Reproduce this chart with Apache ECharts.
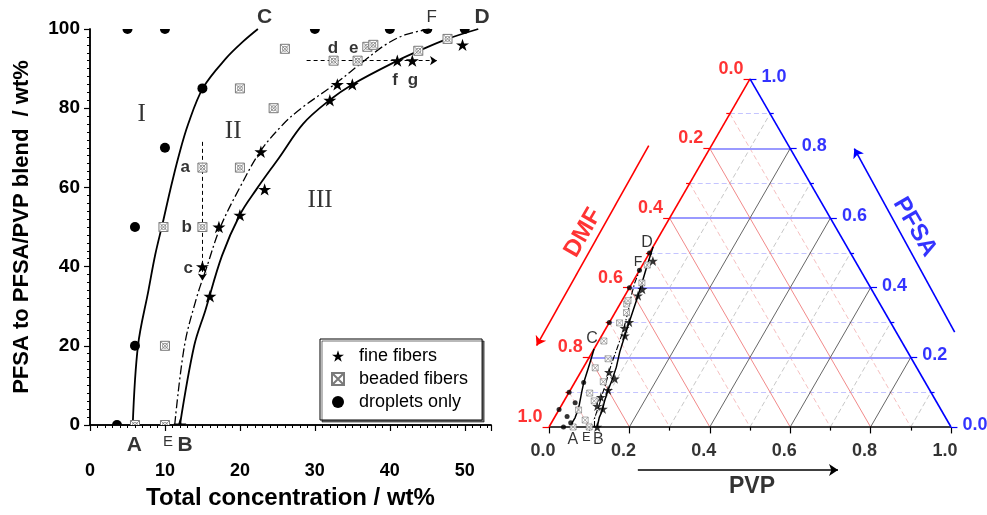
<!DOCTYPE html>
<html>
<head>
<meta charset="utf-8">
<script src="https://cdn.jsdelivr.net/npm/echarts@6/dist/echarts.min.js"></script>
<style>
  html, body { margin: 0; padding: 0; background: #fff; }
  #chart { width: 987px; height: 515px; }
</style>
</head>
<body>
<div id="chart"></div>
<script>
// left panel: [total concentration wt%, PFSA in PFSA/PVP blend wt%]
const fineFibers = [[12, 0], [16, 32.5], [15, 40], [17.2, 50], [20, 53], [23.3, 59.5], [22.8, 69],
  [32, 82], [33, 86], [35, 86], [41, 92], [43, 92], [49.7, 96]];
const beadedFibers = [[6, 0], [10, 0], [10, 20], [9.8, 50], [15, 50], [15, 65], [20, 65], [24.5, 80],
  [20, 85], [26, 95], [32.5, 92], [35.7, 92], [37, 95.5], [37.8, 96], [43.8, 94.5], [47.7, 97.5]];
const droplets = [[3.6, 0], [6, 20], [6, 50], [10, 70], [15, 85], [5, 100], [10, 100], [30, 100],
  [40, 100], [45, 100], [50, 100]];

// boundary curves A-C, E-F (dash-dot), B-D
const curveAC = [[5.7, 0], [6.4, 20], [7.8, 34], [8.7, 43], [9.7, 51], [10.7, 59.3], [11.8, 67.7],
  [13.1, 76], [15.1, 85.2], [18.2, 92.7], [20.4, 96.8], [22.4, 100]];
const curveEF = [[11.3, 0], [12.6, 20], [14.2, 32], [15.6, 40], [17.4, 50], [20, 60], [22.8, 69.3],
  [25.8, 76], [28.2, 80], [32.6, 86], [36.6, 92], [39.4, 96], [42, 98.5], [45.3, 100]];
const curveBD = [[12, 0], [13.9, 20], [15.4, 29], [17.6, 42.7], [20, 53.1], [22.2, 59.5], [25.3, 67.7],
  [28.4, 76], [31.8, 81.8], [35, 86], [41, 92], [43.9, 94.5], [47.7, 97.5], [51.8, 100]];

// dashed guide arrows a->c and d->g
const arrowDown = [[15, 71.5], [15, 36.5]];
const arrowRight = [[28.9, 92], [46.3, 92]];

// ternary ticks
const ternMajor = [0, 0.2, 0.4, 0.6, 0.8, 1.0];
const ternMinor = [0.1, 0.3, 0.5, 0.7, 0.9];

const H = Math.sqrt(3) / 2;
const tp = (pvp, pfsa) => [pvp + pfsa / 2, pfsa * H];
// left-panel point -> triangle position
const tern = (d) => tp(d[0] * (100 - d[1]) / 10000, d[0] * d[1] / 10000);

const STAR = 'M50,2 L61.8,37.6 L99,37.6 L68.9,59.6 L80.4,95.2 L50,73.2 L19.6,95.2 L31.1,59.6 L1,37.6 L38.2,37.6 Z';
const BEAD = 'M0,0 H10 V10 H0 Z M0,0 L10,10 M10,0 L0,10';
const FONT = 'Liberation Sans';

// triangle placement in pixels
const S = 402, OX = 549, OY = 427;
const TX = [-0.15, 1.08], TY = [-0.2, H + 0.1];

const chart = echarts.init(document.getElementById('chart'));

const drawStar = (p, s) => ({ type: 'path',
  shape: { pathData: STAR, x: p[0] - s / 2, y: p[1] - s / 2, width: s, height: s },
  style: { fill: '#000' } });
const drawDot = (p, s) => ({ type: 'circle', shape: { cx: p[0], cy: p[1], r: s / 2 }, style: { fill: '#000' } });
const drawBead = (p, s) => {
  const h = s / 2, x = p[0], y = p[1], c = '#7a7a7a';
  return { type: 'group', children: [
    { type: 'rect', shape: { x: x - h, y: y - h, width: s, height: s }, style: { fill: '#fff', stroke: c, lineWidth: 1 } },
    { type: 'line', shape: { x1: x - h, y1: y - h, x2: x + h, y2: y + h }, style: { stroke: c, lineWidth: 0.8 } },
    { type: 'line', shape: { x1: x + h, y1: y - h, x2: x - h, y2: y + h }, style: { stroke: c, lineWidth: 0.8 } },
    { type: 'circle', shape: { cx: x, cy: y, r: s * 0.28 }, style: { fill: 'none', stroke: c, lineWidth: 0.8 } }
  ] };
};

function markerSeries(name, data, draw, size, itemStyle) {
  return {
    type: 'custom', name, xAxisIndex: 0, yAxisIndex: 0, data, clip: true, z: 6, itemStyle,
    renderItem: (params, api) => draw(api.coord([api.value(0), api.value(1)]), size)
  };
}

// text placed at data positions
function textSeries(items, axis) {
  return {
    type: 'scatter', xAxisIndex: axis, yAxisIndex: axis, symbolSize: 1, silent: true, clip: false, z: 10,
    itemStyle: { color: 'rgba(0,0,0,0)' },
    data: items.map(it => ({ value: it.pos, name: it.text,
      label: Object.assign({ show: true, formatter: '{b}', position: 'inside', color: '#000',
        fontFamily: FONT }, it.style) }))
  };
}

const bold17 = { fontSize: 17, fontWeight: 'bold' };
const roman = { fontSize: 25, fontFamily: 'Liberation Serif' };
const big = { fontSize: 21, fontWeight: 'bold' };
const small = { fontSize: 15 };

const leftNotes = [
  { text: 'a', pos: [12.7, 65], style: bold17 },
  { text: 'b', pos: [12.9, 50], style: bold17 },
  { text: 'c', pos: [13.1, 39.5], style: bold17 },
  { text: 'd', pos: [32.4, 95.2], style: bold17 },
  { text: 'e', pos: [35.2, 95.2], style: bold17 },
  { text: 'f', pos: [40.7, 87], style: bold17 },
  { text: 'g', pos: [43.1, 87], style: bold17 },
  { text: 'I', pos: [6.9, 78.5], style: roman },
  { text: 'II', pos: [19.1, 74.2], style: roman },
  { text: 'III', pos: [30.7, 56.8], style: roman },
  { text: 'C', pos: [23.3, 103], style: big },
  { text: 'F', pos: [45.6, 103], style: { fontSize: 17 } },
  { text: 'D', pos: [52.3, 103], style: big },
  { text: 'A', pos: [5.9, -5], style: big },
  { text: 'E', pos: [10.4, -4.3], style: small },
  { text: 'B', pos: [12.7, -5], style: big }
];

// ternary helpers
const lineStyleBase = { opacity: 1, curveness: 0 };
function ternLines(coords, style, z) {
  return {
    type: 'lines', coordinateSystem: 'cartesian2d', xAxisIndex: 2, yAxisIndex: 2, silent: true, z,
    symbol: 'none', lineStyle: Object.assign({}, lineStyleBase, style),
    data: coords.map(c => ({ coords: c }))
  };
}
const inner = ternMajor.filter(v => v > 0 && v < 1);
const blueL = vals => vals.map(f => [tp(0, f), tp(1 - f, f)]);
const redL = vals => vals.map(d => [tp(0, 1 - d), tp(1 - d, 0)]);
const grayL = vals => vals.map(p => [tp(p, 0), tp(p, 1 - p)]);

const allT = ternMajor.concat(ternMinor);
const tlen = v => (ternMajor.indexOf(v) >= 0 ? 0.016 : 0.009);
const bottomTicks = allT.map(v => [tp(v, 0), [v, -tlen(v)]]);
const redTicks = allT.map(d => { const p = tp(0, 1 - d); return [p, [p[0] - tlen(d), p[1]]]; });
const blueTicks = allT.map(f => { const p = tp(1 - f, f); return [p, [p[0] + tlen(f), p[1]]]; });

// arrows beside the edges: t along the edge, o outward offset
const leftEdge = (t, o) => [t * 0.5 - o * H, t * H + o * 0.5];
const rightEdge = (t, o) => [1 - t * 0.5 + o * H, t * H + o * 0.5];

function tickLabels(items, color, label) {
  return {
    type: 'scatter', xAxisIndex: 2, yAxisIndex: 2, symbolSize: 1, silent: true, z: 10,
    itemStyle: { color: 'rgba(0,0,0,0)' },
    data: items,
    label: Object.assign({ show: true, formatter: '{b}', color, fontFamily: FONT, fontSize: 18, fontWeight: 'bold' }, label)
  };
}

const axisBlack = { lineStyle: { color: '#000', width: 1.5 } };
const curveOpts = { smooth: 0.35, showSymbol: false, silent: true, z: 3 };

const option = {
  animation: false,
  backgroundColor: '#fff',
  textStyle: { fontFamily: FONT },
  grid: [
    { left: 90, top: 29, width: 401, height: 400 },
    { left: OX + TX[0] * S, top: OY - TY[1] * S, width: (TX[1] - TX[0]) * S, height: (TY[1] - TY[0]) * S }
  ],
  xAxis: [
    { gridIndex: 0, type: 'value', min: 0, max: 53.5, interval: 10,
      axisLine: axisBlack,
      axisTick: { length: 6, lineStyle: { color: '#000', width: 1.2 } },
      minorTick: { show: true, splitNumber: 10, length: 3, lineStyle: { color: '#000' } },
      axisLabel: { showMaxLabel: false, color: '#000', fontSize: 18, fontWeight: 'bold', margin: 37 },
      splitLine: { show: false },
      name: 'Total concentration / wt%', nameLocation: 'middle', nameGap: 61,
      nameTextStyle: { color: '#000', fontSize: 24, fontWeight: 'bold' } },
    { gridIndex: 0, type: 'value', position: 'top', min: 0, max: 53.5,
      axisLine: axisBlack, axisTick: { show: false }, axisLabel: { show: false }, splitLine: { show: false } },
    { gridIndex: 1, type: 'value', min: TX[0], max: TX[1], show: false }
  ],
  yAxis: [
    { gridIndex: 0, type: 'value', min: 0, max: 100, interval: 20,
      axisLine: axisBlack,
      axisTick: { length: 6, lineStyle: { color: '#000', width: 1.2 } },
      minorTick: { show: true, splitNumber: 10, length: 3, lineStyle: { color: '#000' } },
      axisLabel: { color: '#000', fontSize: 19, fontWeight: 'bold', margin: 10 },
      splitLine: { show: false },
      name: 'PFSA to PFSA/PVP blend  / wt%', nameLocation: 'middle', nameGap: 57,
      nameTextStyle: { color: '#000', fontSize: 22, fontWeight: 'bold' } },
    { gridIndex: 0, type: 'value', position: 'right', min: 0, max: 100,
      axisLine: axisBlack, axisTick: { show: false }, axisLabel: { show: false }, splitLine: { show: false } },
    { gridIndex: 1, type: 'value', min: TY[0], max: TY[1], show: false }
  ],
  legend: {
    left: 320, top: 339, orient: 'vertical', selectedMode: false,
    itemWidth: 12, itemHeight: 12, itemGap: 5,
    padding: [8, 14, 9, 11],
    borderColor: '#000', borderWidth: 1, backgroundColor: '#fff',
    shadowColor: 'rgba(0,0,0,0.55)', shadowOffsetX: 2, shadowOffsetY: 2, shadowBlur: 0,
    textStyle: { fontSize: 18, color: '#000', fontFamily: FONT, padding: [0, 0, 0, 10] },
    data: [
      { name: 'fine fibers', icon: 'path://' + STAR },
      { name: 'beaded fibers', icon: 'path://' + BEAD },
      { name: 'droplets only', icon: 'circle' }
    ]
  },
  series: [
    // ---- left panel ----
    Object.assign({ type: 'line', xAxisIndex: 0, yAxisIndex: 0, data: curveAC,
      lineStyle: { color: '#000', width: 1.8 } }, curveOpts),
    Object.assign({ type: 'line', xAxisIndex: 0, yAxisIndex: 0, data: curveEF,
      lineStyle: { color: '#000', width: 1.3, type: [9, 3, 2, 3] } }, curveOpts),
    Object.assign({ type: 'line', xAxisIndex: 0, yAxisIndex: 0, data: curveBD,
      lineStyle: { color: '#000', width: 1.8 } }, curveOpts),
    { type: 'lines', coordinateSystem: 'cartesian2d', xAxisIndex: 0, yAxisIndex: 0, silent: true, z: 4,
      symbol: ['none', 'arrow'], symbolSize: 7,
      lineStyle: { color: '#000', width: 1, type: [4, 3], opacity: 1, curveness: 0 },
      data: [{ coords: arrowDown }, { coords: arrowRight }] },
    markerSeries('beaded fibers', beadedFibers, drawBead, 9,
      { color: '#fff', borderColor: '#7a7a7a', borderWidth: 1 }),
    markerSeries('droplets only', droplets, drawDot, 10, { color: '#000' }),
    markerSeries('fine fibers', fineFibers, drawStar, 13, { color: '#000' }),
    textSeries(leftNotes, 0),

    // ---- ternary panel ----
    ternLines(blueL(ternMinor), { color: '#c4c4ff', width: 1, type: [5, 3] }, 1),
    ternLines(redL(ternMinor), { color: '#f6c0c0', width: 1, type: [5, 3] }, 1),
    ternLines(grayL(ternMinor), { color: '#c8c8c8', width: 1, type: [5, 3] }, 1),
    ternLines(blueL(inner), { color: '#9a9aff', width: 1.8 }, 2),
    ternLines(redL(inner), { color: '#f28a8a', width: 1 }, 2),
    ternLines(grayL(inner), { color: '#555', width: 0.9 }, 2),
    ternLines(bottomTicks, { color: '#000', width: 1.2 }, 3),
    ternLines(redTicks, { color: '#ff0000', width: 1.2 }, 3),
    ternLines(blueTicks, { color: '#0000ff', width: 1.2 }, 3),
    { type: 'lines', coordinateSystem: 'cartesian2d', xAxisIndex: 2, yAxisIndex: 2, silent: true, z: 4,
      symbol: 'none', lineStyle: { width: 1.6, opacity: 1, curveness: 0 },
      data: [
        { coords: [tp(0, 0), tp(1, 0)], lineStyle: { color: '#000' } },
        { coords: [tp(0, 0), tp(0, 1)], lineStyle: { color: '#ff0000' } },
        { coords: [tp(1, 0), tp(0, 1)], lineStyle: { color: '#0000ff' } }
      ] },
    { type: 'lines', coordinateSystem: 'cartesian2d', xAxisIndex: 2, yAxisIndex: 2, silent: true, z: 4,
      symbol: ['none', 'arrow'], symbolSize: 9, lineStyle: { width: 1.6, opacity: 1, curveness: 0 },
      data: [
        { coords: [leftEdge(0.73, 0.135), leftEdge(0.16, 0.128)], lineStyle: { color: '#ff0000' } },
        { coords: [rightEdge(0.2, 0.126), rightEdge(0.72, 0.138)], lineStyle: { color: '#0000ff' } },
        { coords: [[0.221, -0.107], [0.719, -0.107]], lineStyle: { color: '#000' } }
      ] },
    { type: 'line', xAxisIndex: 2, yAxisIndex: 2, data: curveAC.map(tern), showSymbol: false, silent: true,
      lineStyle: { color: '#000', width: 1.5 }, z: 5 },
    { type: 'line', xAxisIndex: 2, yAxisIndex: 2, data: curveEF.map(tern), showSymbol: false, silent: true,
      lineStyle: { color: '#000', width: 1.1, type: [6, 2, 1.5, 2] }, z: 5 },
    { type: 'line', xAxisIndex: 2, yAxisIndex: 2, data: curveBD.map(tern), showSymbol: false, silent: true,
      lineStyle: { color: '#000', width: 1.5 }, z: 5 },
    { type: 'scatter', name: 'tern beaded', xAxisIndex: 2, yAxisIndex: 2, data: beadedFibers.map(tern), z: 6,
      symbol: 'path://' + BEAD, symbolSize: 6, silent: true,
      itemStyle: { color: '#fff', borderColor: '#7a7a7a', borderWidth: 0.8 } },
    { type: 'scatter', name: 'tern droplets', xAxisIndex: 2, yAxisIndex: 2, data: droplets.map(tern), z: 6,
      symbol: 'circle', symbolSize: 5, silent: true, itemStyle: { color: '#000' } },
    { type: 'scatter', name: 'tern fine', xAxisIndex: 2, yAxisIndex: 2, data: fineFibers.map(tern), z: 7,
      symbol: 'path://' + STAR, symbolSize: 10, silent: true, itemStyle: { color: '#000' } },
    tickLabels(ternMajor.map(v => ({ value: tp(v, 0), name: v.toFixed(1) })), '#000',
      { position: 'bottom', distance: 15, offset: [-6, 0] }),
    tickLabels(ternMajor.map(d => ({ value: tp(0, 1 - d), name: d.toFixed(1) })), '#ff0000',
      { position: 'left', distance: 6, offset: [0, -10] }),
    tickLabels(ternMajor.map(f => ({ value: tp(1 - f, f), name: f.toFixed(1) })), '#0000ff',
      { position: 'right', distance: 11, offset: [0, -2] }),
    textSeries([
      { text: 'DMF', pos: [0.085, 0.483], style: { fontSize: 24, fontWeight: 'bold', color: '#ff0000', rotate: 60 } },
      { text: 'PFSA', pos: [0.91, 0.4975], style: { fontSize: 24, fontWeight: 'bold', color: '#0000ff', rotate: -60 } },
      { text: 'PVP', pos: [0.505, -0.149], style: { fontSize: 23, fontWeight: 'bold' } },
      { text: 'A', pos: tern(curveAC[0]), style: { fontSize: 16, offset: [1, 13] } },
      { text: 'E', pos: tern(curveEF[0]), style: { fontSize: 13, offset: [-8, 10] } },
      { text: 'B', pos: tern(curveBD[0]), style: { fontSize: 16, offset: [1, 13] } },
      { text: 'C', pos: tern(curveAC[curveAC.length - 1]), style: { fontSize: 16, offset: [-2, -10] } },
      { text: 'F', pos: tern(curveEF[curveEF.length - 1]), style: { fontSize: 14, offset: [-2, -7] } },
      { text: 'D', pos: tern(curveBD[curveBD.length - 1]), style: { fontSize: 16, offset: [-6, -4] } }
    ], 2)
  ]
};

chart.setOption(option);
</script>
</body>
</html>
